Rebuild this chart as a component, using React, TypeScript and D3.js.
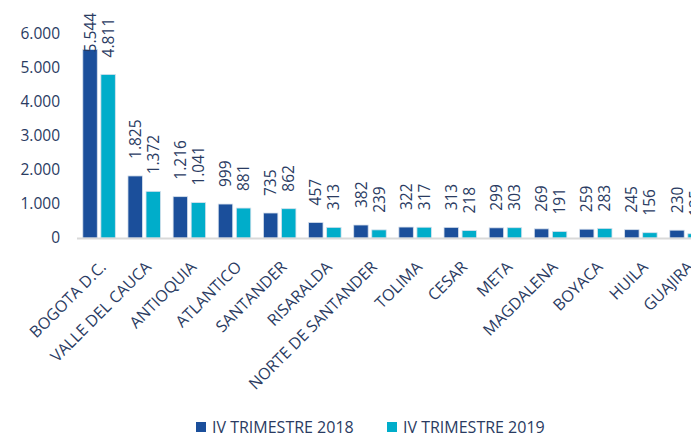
import React from "react";
import * as d3 from "d3";

const width = 691;
const height = 435;

// departamentos, ordered as in the chart
const departments = [
  "BOGOTA D.C.", "VALLE DEL CAUCA", "ANTIOQUIA", "ATLANTICO", "SANTANDER",
  "RISARALDA", "NORTE DE SANTANDER", "TOLIMA", "CESAR", "META",
  "MAGDALENA", "BOYACA", "HUILA", "GUAJIRA",
];
const q4_2018 = [5544, 1825, 1216, 999, 735, 457, 382, 322, 313, 299, 269, 259, 245, 230];
const q4_2019 = [4811, 1372, 1041, 881, 862, 313, 239, 317, 218, 303, 191, 283, 156, 125];
const seriesNames = ["IV TRIMESTRE 2018", "IV TRIMESTRE 2019"];
const yTicks = [0, 1000, 2000, 3000, 4000, 5000, 6000];

const colors = ["#1B4F9B", "#00ADCA"];
const textColor = "#2a3b62";
const font = "'Open Sans', sans-serif";

const plotLeft = 76.5;
const step = 45.15;
const y0 = 238;

const fmt = d3.formatLocale({ decimal: ",", thousands: ".", grouping: [3], currency: ["$", ""] }).format(",");

export default function App() {
  const x0 = d3.scaleBand<string>()
    .domain(departments)
    .range([plotLeft, plotLeft + step * departments.length])
    .paddingInner(0.28)
    .paddingOuter(0.14);
  const x1 = d3.scaleBand<string>()
    .domain(seriesNames)
    .range([0, x0.bandwidth()])
    .paddingInner(0.2);
  const y = d3.scaleLinear().domain([0, 6000]).range([y0, 34]);

  const rows = departments.map((d, i) => ({ name: d, values: [q4_2018[i], q4_2019[i]] }));

  // rough rendered length of a rotated value label, used to keep it inside the top edge
  const labelLen = (s: string) => {
    const digits = s.replace(/[^0-9]/g, "").length;
    return digits * 8.6 + (s.length - digits) * 4;
  };

  return (
    <svg width={width} height={height} style={{ position: "absolute", left: 0, top: 0, background: "#fff" }}
      fontFamily={font}>
      {/* y axis labels */}
      {yTicks.map(t => (
        <text key={t} x={60} y={y(t)} dy="0.35em" textAnchor="end" fontSize={15.5} fill={textColor}>{fmt(t)}</text>
      ))}

      {/* bars */}
      {rows.map(r => (
        <g key={r.name} transform={`translate(${x0(r.name)},0)`}>
          {r.values.map((v, j) => (
            <rect key={j} x={x1(seriesNames[j])} y={y(v)} width={x1.bandwidth()} height={y0 - y(v)}
              fill={colors[j]} stroke="#d6e0ec" strokeWidth={0.8} />
          ))}
        </g>
      ))}

      {/* axis line */}
      <line x1={77} x2={width} y1={y0 + 0.5} y2={y0 + 0.5} stroke="#d9d9d9" strokeWidth={2} />

      {/* value labels */}
      {rows.map(r => r.values.map((v, j) => {
        const s = fmt(v);
        const cx = (x0(r.name) as number) + (x1(seriesNames[j]) as number) + x1.bandwidth() / 2;
        const base = Math.max(y(v) - 17, 14 + labelLen(s));
        return (
          <text key={r.name + j} transform={`translate(${cx},${base}) rotate(-90)`} dy="0.36em"
            fontSize={15.5} fill={textColor}>{s}</text>
        );
      }))}

      {/* category labels */}
      {departments.map(d => {
        const cx = (x0(d) as number) + x0.bandwidth() / 2;
        return (
          <text key={d} transform={`translate(${cx + 8},${y0 + 30}) rotate(-45)`} textAnchor="end"
            fontSize={16} fill={textColor}>{d}</text>
        );
      })}

      {/* legend */}
      {seriesNames.map((s, i) => (
        <g key={s} transform={`translate(${196 + i * 191},422)`}>
          <rect width={10} height={10} fill={colors[i]} />
          <text x={16} y={10.5} fontSize={16} fill={textColor}>{s}</text>
        </g>
      ))}
    </svg>
  );
}
